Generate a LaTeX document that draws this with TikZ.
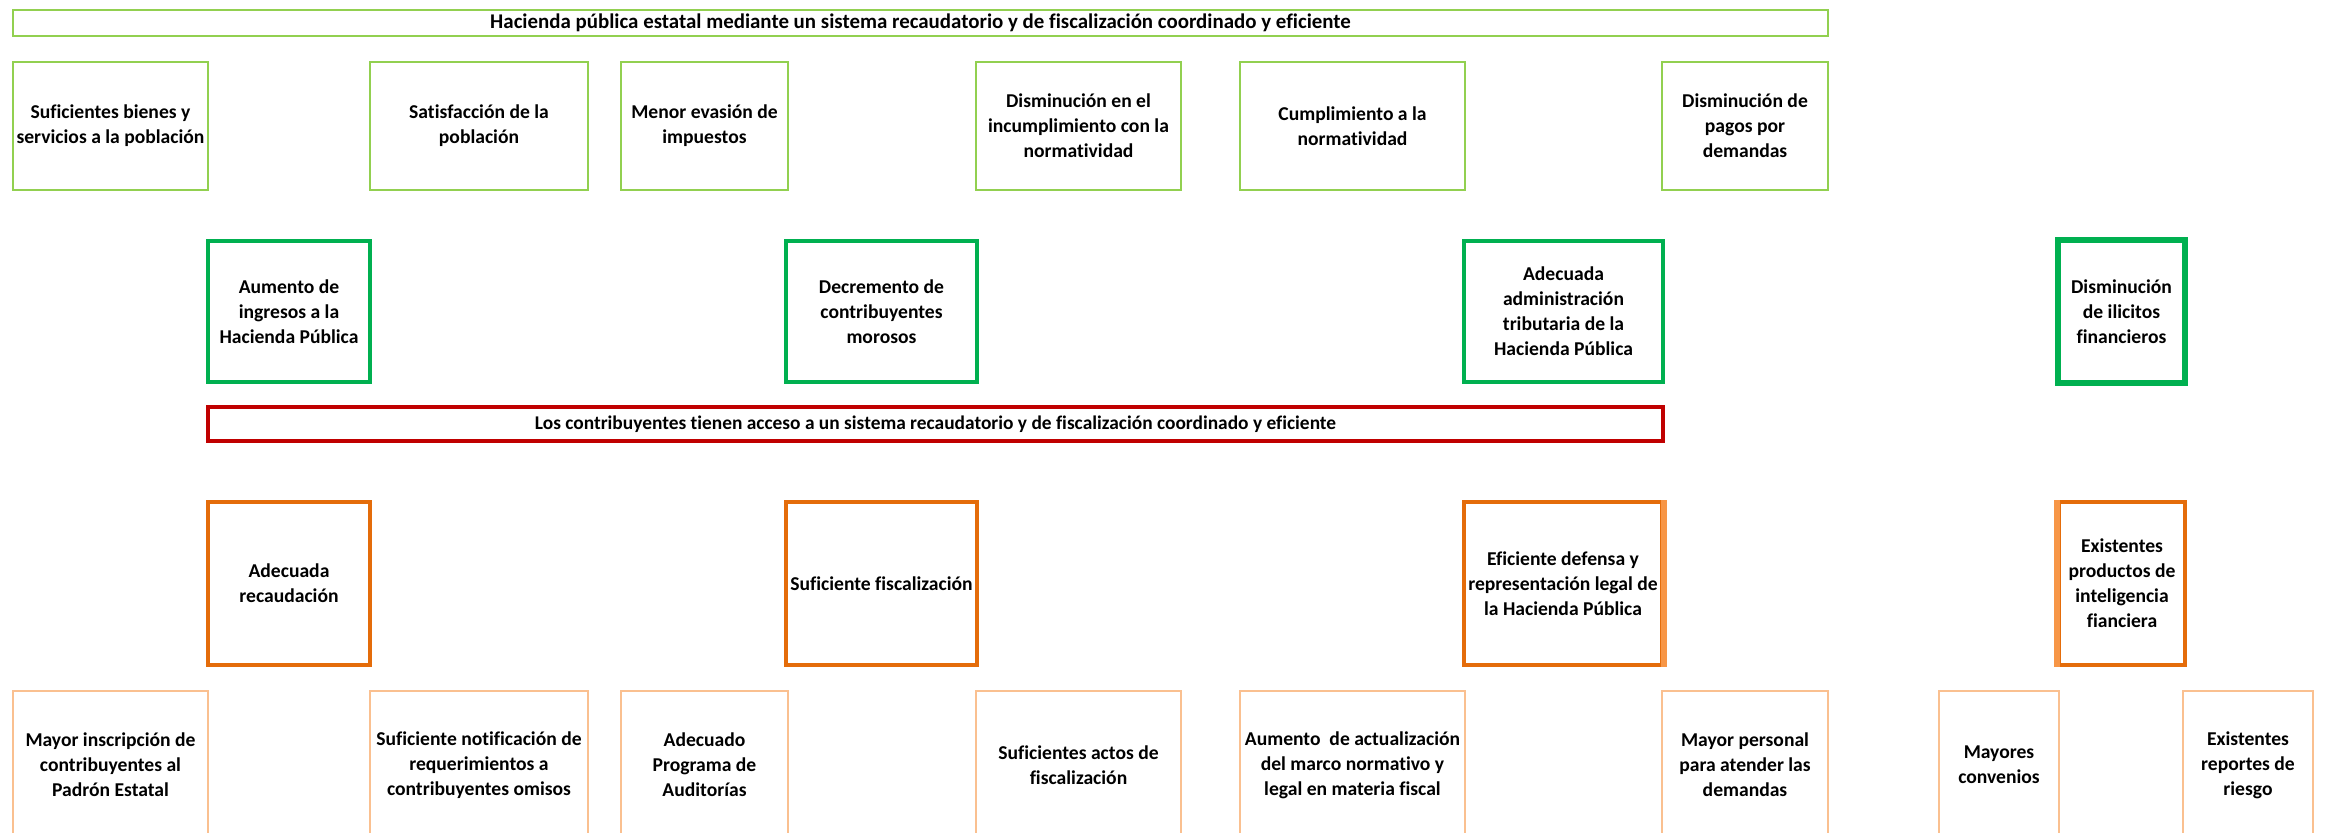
\documentclass[tikz,border=0pt]{standalone}
\usepackage{fontspec}
\setmainfont{Carlito}[Ligatures=NoCommon]
\definecolor{lgreen}{HTML}{92D050}
\definecolor{dgreen}{HTML}{00B050}
\definecolor{dred}{HTML}{C00000}
\definecolor{dorange}{HTML}{E46C0A}
\definecolor{morange}{HTML}{F79646}
\definecolor{lorange}{HTML}{FAC090}
\newcommand\cellbox[7]{%
  \pgfmathsetmacro\cw{(#4-#2)*0.5}%
  \pgfmathsetmacro\ch{(#5-#3)*0.5}%
  \node[#6, minimum width=\cw pt, minimum height=\ch pt] (#1) at ({(#2+#4)/2},{(#3+#5)/2}) {#7};%
}
\tikzset{
  x=0.5pt, y=-0.5pt,
  base/.style={draw, rectangle, inner sep=0pt, align=center, text=black,
    font=\fontsize{9.8}{12.5}\selectfont\bfseries},
  goalbox/.style={base, draw=lgreen, line width=0.85pt},
  bannerbox/.style={goalbox, font=\fontsize{10.45}{12.5}\selectfont\bfseries},
  effbox/.style={base, draw=dgreen, line width=2pt},
  effboxw/.style={base, draw=dgreen, line width=3pt},
  probbox/.style={base, draw=dred, line width=2pt, font=\fontsize{9.7}{12.5}\selectfont\bfseries},
  causebox/.style={base, draw=dorange, line width=1.7pt},
  subbox/.style={base, draw=lorange, line width=0.8pt},
}
\begin{document}
\begin{tikzpicture}
\useasboundingbox (0,0) rectangle (2330,833);
\clip (0,0) rectangle (2330,833);
% banner
\cellbox{banner}{13}{10}{1828}{36}{bannerbox}{Hacienda pública estatal mediante un sistema recaudatorio y de fiscalización coordinado y eficiente}
% row 1
\cellbox{g1}{13}{62}{208}{190}{goalbox}{Suficientes bienes y\\servicios a la población}
\cellbox{g2}{370}{62}{588}{190}{goalbox}{Satisfacción de la\\población}
\cellbox{g3}{621}{62}{788}{190}{goalbox}{Menor evasión de\\impuestos}
\cellbox{g4}{976}{62}{1181}{190}{goalbox}{Disminución en el\\incumplimiento con la\\normatividad}
\cellbox{g5}{1240}{62}{1465}{190}{goalbox}{Cumplimiento a la\\normatividad}
\cellbox{g6}{1662}{62}{1828}{190}{goalbox}{Disminución de\\pagos por\\demandas}
% row 2
\cellbox{e1}{208}{241}{370}{382}{effbox}{Aumento de\\ingresos a la\\Hacienda Pública}
\cellbox{e2}{786}{241}{977}{382}{effbox}{Decremento de\\contribuyentes\\morosos}
\cellbox{e3}{1464}{241}{1663}{382}{effbox}{Adecuada\\administración\\tributaria de la\\Hacienda Pública}
\cellbox{e4}{2058}{240}{2185}{383}{effboxw}{Disminución\\de ilicitos\\financieros}
% problem
\cellbox{prob}{208}{407}{1663}{441}{probbox}{Los contribuyentes tienen acceso a un sistema recaudatorio y de fiscalización coordinado y eficiente}
% row 3
\cellbox{c1}{208}{502}{370}{665}{causebox}{Adecuada\\recaudación}
\cellbox{c2}{786}{502}{977}{665}{causebox}{Suficiente fiscalización}
\cellbox{c3}{1464}{502}{1662}{665}{causebox}{Eficiente defensa y\\representación legal de\\la Hacienda Pública}
\cellbox{c4}{2059}{502}{2185}{665}{causebox}{Existentes\\productos de\\inteligencia\\fianciera}
\draw[morange, line width=3pt] (c3.north east) -- (c3.south east);
\draw[morange, line width=3pt] (c4.north west) -- (c4.south west);
% row 4
\cellbox{s1}{13}{691}{208}{839}{subbox}{Mayor inscripción de\\contribuyentes al\\Padrón Estatal}
\cellbox{s2}{370}{691}{588}{839}{subbox}{Suficiente notificación de\\requerimientos a\\contribuyentes omisos}
\cellbox{s3}{621}{691}{788}{839}{subbox}{Adecuado\\Programa de\\Auditorías}
\cellbox{s4}{976}{691}{1181}{839}{subbox}{Suficientes actos de\\fiscalización}
\cellbox{s5}{1240}{691}{1465}{839}{subbox}{Aumento~ de actualización\\del marco normativo y\\legal en materia fiscal}
\cellbox{s6}{1662}{691}{1828}{839}{subbox}{Mayor personal\\para atender las\\demandas}
\cellbox{s7}{1939}{691}{2059}{839}{subbox}{Mayores\\convenios}
\cellbox{s8}{2183}{691}{2313}{839}{subbox}{Existentes\\reportes de\\riesgo}
\end{tikzpicture}
\end{document}
